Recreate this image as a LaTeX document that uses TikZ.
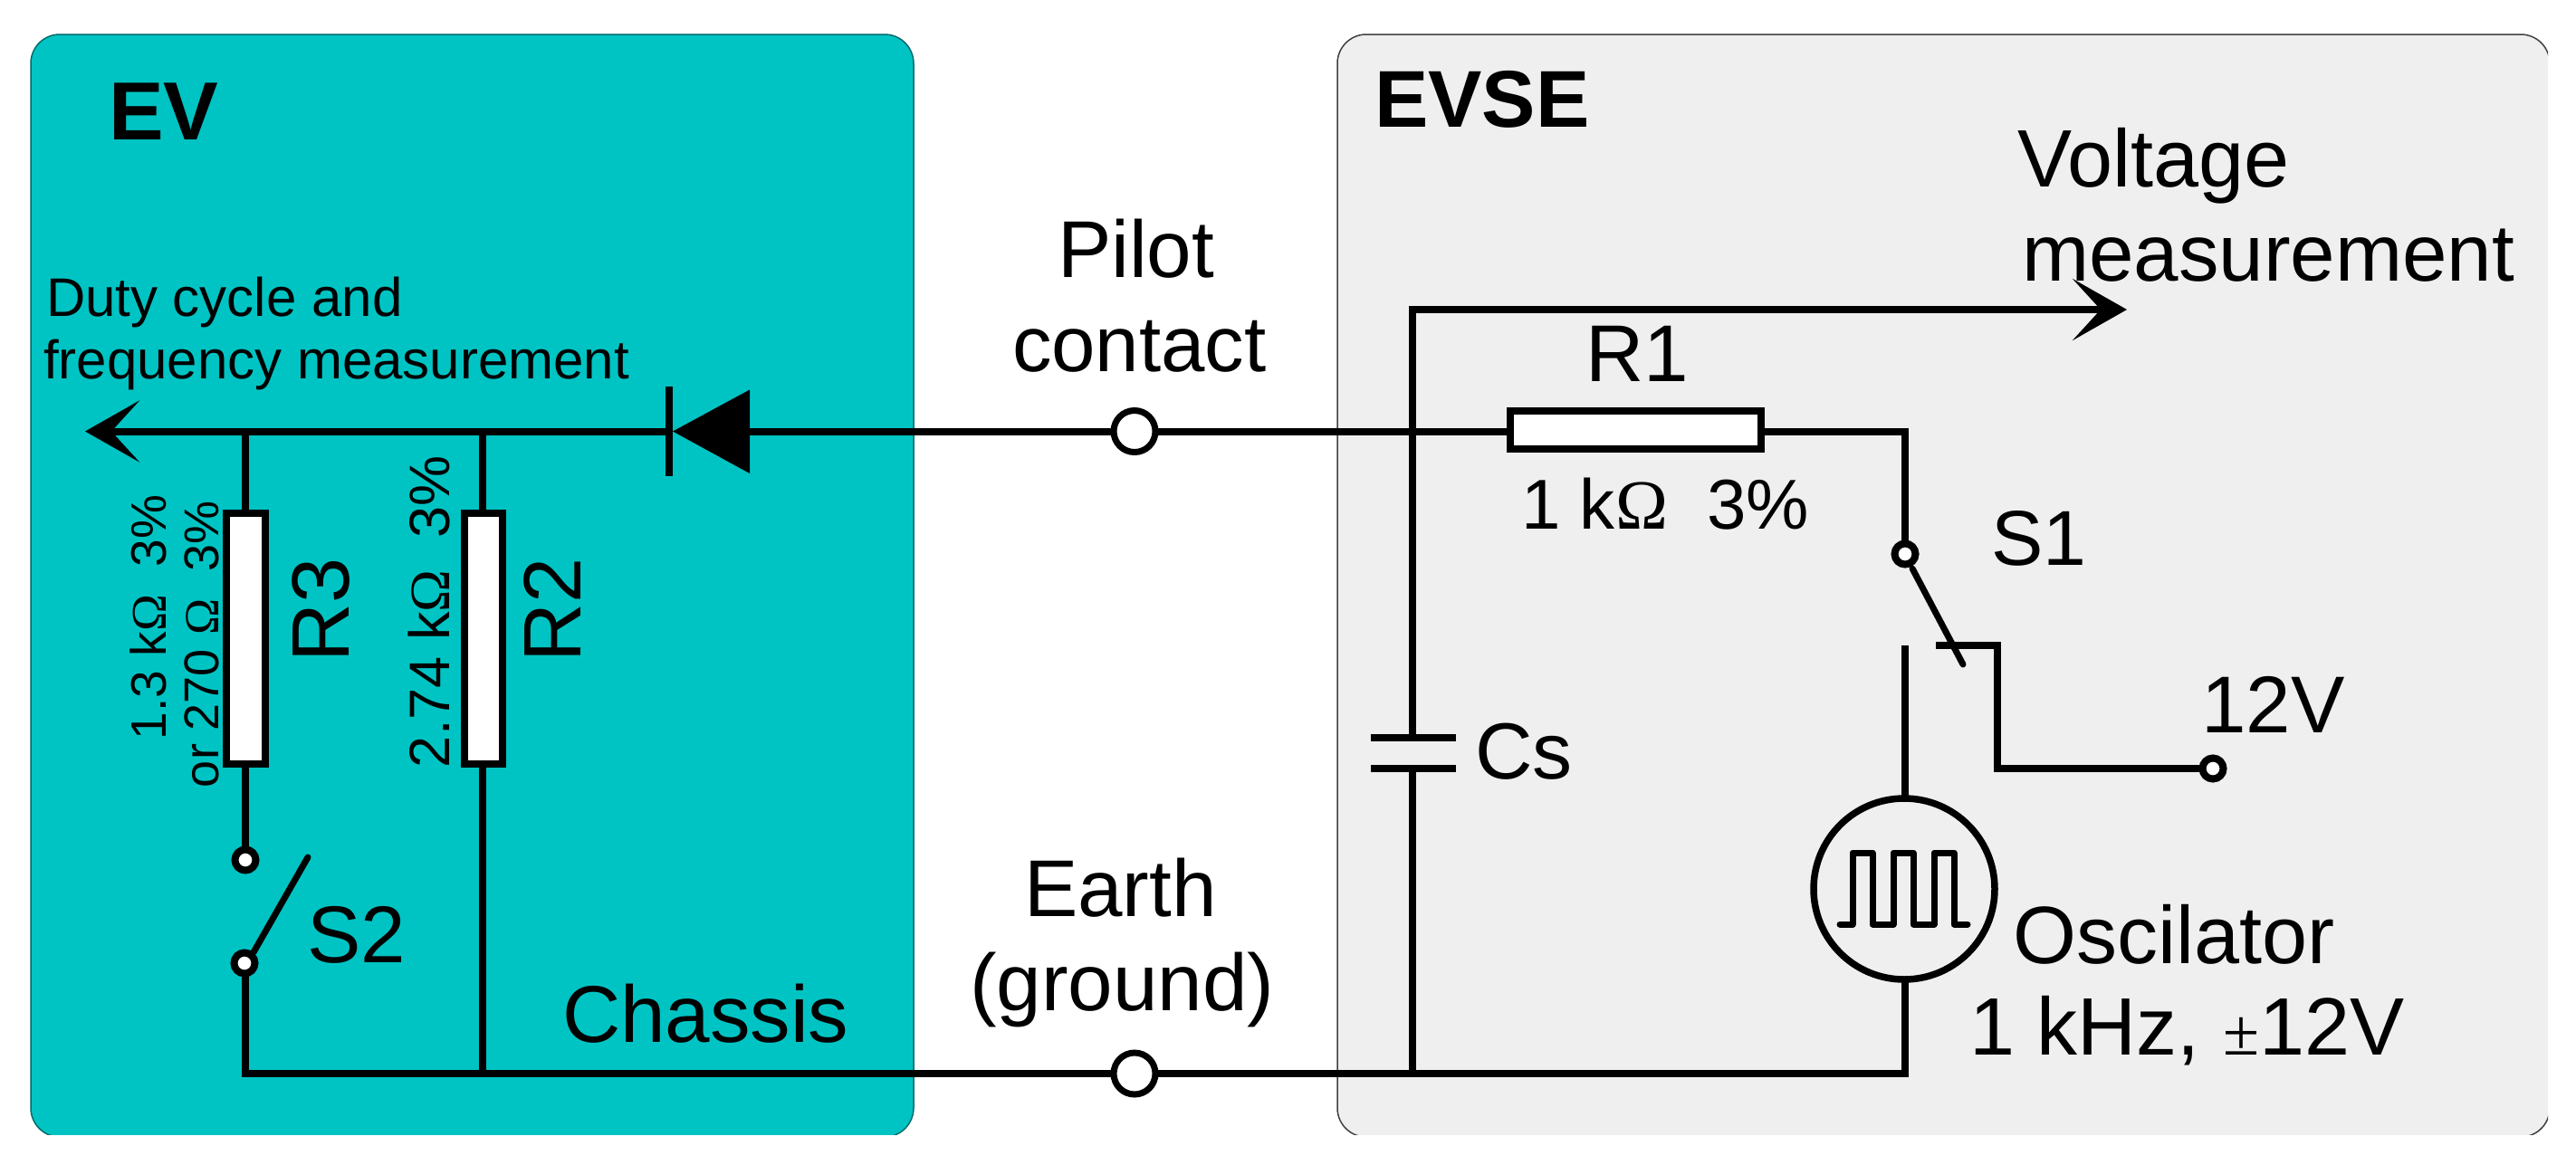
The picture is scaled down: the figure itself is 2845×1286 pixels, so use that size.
\documentclass[tikz,border=0pt]{standalone}
\usepackage{fontspec}
\setmainfont{Liberation Sans}
\newfontfamily\serifsym{Liberation Serif}
\usetikzlibrary{arrows.meta}
\definecolor{evfill}{HTML}{00C4C4}
\definecolor{evsefill}{HTML}{EFEFEF}
\definecolor{evedge}{HTML}{006B6B}
\newcommand{\fsz}[1]{\fontsize{#1}{#1}\selectfont}
\newcommand{\Om}{{\serifsym Ω}}
\tikzset{
  wire/.style={line width=8pt,line cap=butt,line join=miter},
  blade/.style={line width=7pt,line cap=round},
  res/.style={draw=black,fill=white,line width=8pt,inner sep=0pt,outer sep=0pt},
  contact/.style={circle,draw=black,fill=white,line width=8pt,inner sep=0pt,outer sep=0pt,minimum size=23pt},
  bigcontact/.style={circle,draw=black,fill=white,line width=7pt,inner sep=0pt,outer sep=0pt,minimum size=46pt},
  lab/.style={anchor=base west,inner sep=0pt,outer sep=0pt,text=black},
  vlab/.style={anchor=base west,inner sep=0pt,outer sep=0pt,text=black,rotate=90},
  arrowwire/.style={wire,-{Stealth[length=60pt,width=68pt,inset=31pt]}}
}
\begin{document}
\begin{tikzpicture}[x=1pt,y=-1pt]
\useasboundingbox (0,0) rectangle (2845,1286);
% panels
\begin{scope}
\clip (0,0) rectangle (2814,1253);
\fill[evfill,draw=evedge,line width=1.5pt,rounded corners=32pt] (34,38) rectangle (1009,1256);
\fill[evsefill,draw=black!75,line width=1.5pt,rounded corners=32pt] (1477,38) rectangle (2816,1256);
\end{scope}
% nodes
\node[bigcontact] (pilot) at (1253,476.5) {};
\node[bigcontact] (earth) at (1253,1186) {};
\node[res,minimum width=43pt,minimum height=277pt] (R3) at (271.5,705.5) {};
\node[res,minimum width=42pt,minimum height=277pt] (R2) at (534,705.5) {};
\node[res,minimum width=277pt,minimum height=42pt] (R1) at (1806.5,475) {};
\node[contact] (s2top) at (271,950) {};
\node[contact] (s2bot) at (270,1064) {};
\node[contact] (s1top) at (2104,612) {};
\node[contact] (v12) at (2444,849) {};
\node[circle,draw=black,fill=evsefill,line width=7.5pt,inner sep=0pt,outer sep=0pt,minimum size=200pt] (osc) at (2103,982) {};
% named points
\coordinate (arrowL) at (94,476.5);
\coordinate (j3) at (271,476.5);
\coordinate (j2) at (533,476.5);
\coordinate (diodeA) at (828,476.5);
\coordinate (diodeK) at (741,476.5);
\coordinate (b3) at (271,1186);
\coordinate (b2) at (533,1186);
\coordinate (jc) at (1560,1186);
\coordinate (voltc) at (1560,342);
\coordinate (arrowR) at (2349,342);
\coordinate (capT) at (1560,815);
\coordinate (capB) at (1560,849);
\coordinate (r1c) at (2104,476.5);
\coordinate (oscT) at (2104,713);
\coordinate (oscB) at (2104,1186);
\coordinate (barL) at (2138,713);
\coordinate (barC) at (2206,713);
\coordinate (barD) at (2206,849);
% wires
\draw[arrowwire] (diodeK) -- (arrowL);
\draw[wire] (diodeA) -- (pilot.west);
\draw[wire] (pilot.east) -- (pilot.east -| R1.west);
\draw[wire] (r1c -| R1.east) -- (r1c) -- (s1top.north);
\draw[wire] (j3) -- (j3 |- R3.north);
\draw[wire] (j2) -- (j2 |- R2.north);
\draw[wire] (j3 |- R3.south) -- (s2top.north);
\draw[wire] (b3 |- s2bot.south) -- (b3) -- (earth.west);
\draw[wire] (j2 |- R2.south) -- (b2);
\draw[wire] (earth.east) -- (oscB) -- (osc.south -| oscB);
\draw[wire] (oscT) -- (osc.north -| oscT);
\draw[wire] (jc) -- (capB);
\draw[wire] (capT) -- (voltc) -- ++(4,0);
\draw[arrowwire] (1556,342) -- (arrowR);
\draw[wire] (barL) -- (barC) -- (barD) -- (v12.west);
% switch blades
\draw[blade] (280,1052) -- (340,947);
\draw[blade] (2112,628) -- (2168,734);
% diode
\fill[black] (diodeA)++(0,-46) -- (743,476.5) -- (828,523) -- cycle;
\draw[line width=8pt] (739,427) -- (739,526);
% capacitor plates
\draw[wire] (1514,815) -- (1608,815);
\draw[wire] (1514,849) -- (1608,849);
% square wave
\draw[line width=7pt,line cap=round,line join=round] (2032,1021) -- (2046,1021) -- (2046,942) -- (2068,942) -- (2068,1021) -- (2091,1021) -- (2091,942) -- (2113,942) -- (2113,1021) -- (2136,1021) -- (2136,942) -- (2158,942) -- (2158,1021) -- (2173,1021);
% labels
\node[lab,font=\fsz{91}\bfseries] (tEV) at (120,154) {EV};
\node[lab,font=\fsz{89}\bfseries] (tEVSE) at (1518,140) {EVSE};
\node[lab,font=\fsz{90}] (tVolt) at (2228,206) {Voltage};
\node[lab,font=\fsz{89}] (tMeas) at (2233,310) {measurement};
\node[lab,font=\fsz{89}] (tPilot) at (1168,306) {Pilot};
\node[lab,font=\fsz{87}] (tContact) at (1118,410) {contact};
\node[lab,font=\fsz{89}] (tEarth) at (1131,1012) {Earth};
\node[lab,font=\fsz{89}] (tGround) at (1071,1116) {(ground)};
\node[lab,font=\fsz{60}] (tDuty) at (51,349) {Duty cycle and};
\node[lab,font=\fsz{60}] (tFreq) at (48,418) {frequency measurement};
\node[lab,font=\fsz{89}] (tR1) at (1751,421) {R1};
\node[lab,font=\fsz{78}] (tR1v) at (1680,584) {1 k\Om\ \ 3\%};
\node[lab,font=\fsz{86}] (tS1) at (2199,624) {S1};
\node[lab,font=\fsz{89}] (t12) at (2431,809) {12V};
\node[lab,font=\fsz{88}] (tCs) at (1629,860) {Cs};
\node[lab,font=\fsz{90}] (tOsc) at (2223,1064) {Oscilator};
\node[lab,font=\fsz{90}] (tKhz) at (2175,1165) {1 kHz, {\serifsym\fsz{73}±}12V};
\node[lab,font=\fsz{89}] (tChassis) at (621,1151) {Chassis};
\node[lab,font=\fsz{89}] (tS2) at (339,1063) {S2};
\node[vlab,font=\fsz{90}] (tR3) at (385,731) {R3};
\node[vlab,font=\fsz{90}] (tR2) at (641,731) {R2};
\node[vlab,font=\fsz{55}] (tR3a) at (183,817) {1.3 k\Om\ \ 3\%};
\node[vlab,font=\fsz{54}] (tR3b) at (241,870) {or 270 \Om\ \ 3\%};
\node[vlab,font=\fsz{63}] (tR2a) at (496,848) {2.74 k\Om\ \ 3\%};
\end{tikzpicture}
\end{document}
